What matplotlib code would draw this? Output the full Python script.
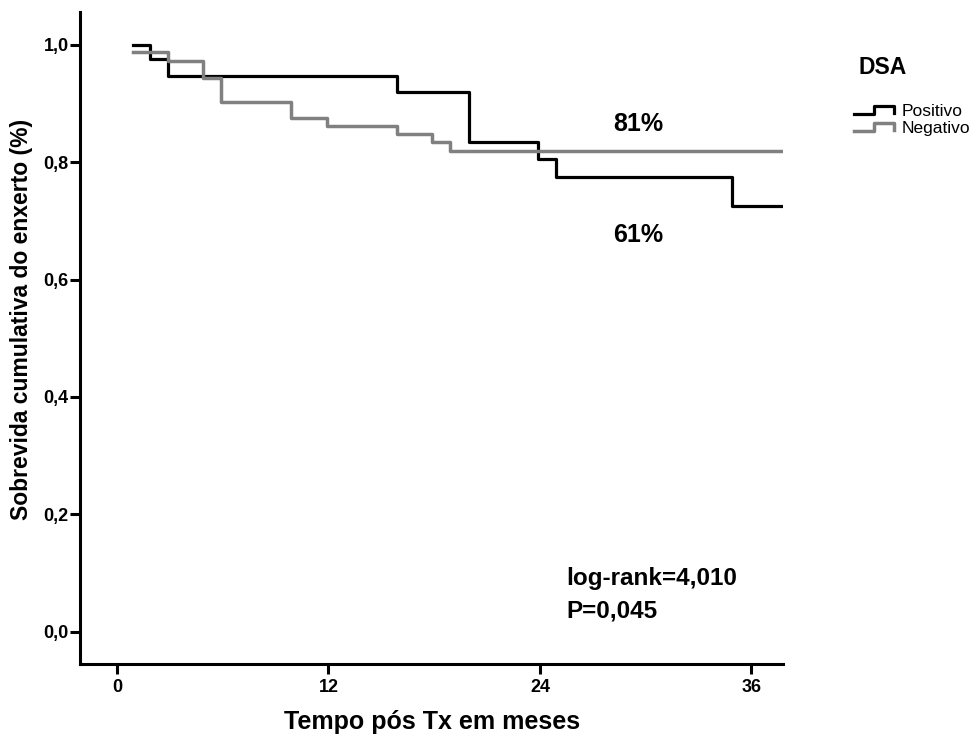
import numpy as np
import matplotlib
matplotlib.use("Agg")
import matplotlib.pyplot as plt
from matplotlib.lines import Line2D
from matplotlib.legend_handler import HandlerBase
from matplotlib.ticker import FuncFormatter

plt.rcParams['font.family'] = ['Liberation Sans', 'DejaVu Sans']

# Kaplan-Meier estimates
t_pos = [0.9, 1.9, 2.9, 15.9, 20.0, 23.9, 24.9, 34.9, 37.8]
s_pos = [1.0, 0.975, 0.947, 0.92, 0.835, 0.806, 0.775, 0.726, 0.726]

t_neg = [0.9, 2.9, 4.9, 5.9, 9.9, 11.9, 15.9, 17.9, 18.9, 37.8]
s_neg = [0.987, 0.973, 0.944, 0.903, 0.875, 0.861, 0.847, 0.834, 0.819, 0.819]

groups = ["Positivo", "Negativo"]
x_ticks = [0, 12, 24, 36]
y_ticks = [0.0, 0.2, 0.4, 0.6, 0.8, 1.0]


class StepHandler(HandlerBase):
    # little step glyph like the SPSS legend
    def create_artists(self, legend, orig_handle, xdescent, ydescent,
                       width, height, fontsize, trans):
        xs = np.array([0, 0.5, 0.5, 1.0, 1.0]) * width - xdescent
        ys = np.array([0.15, 0.15, 0.8, 0.8, 0.25]) * height - ydescent
        ln = Line2D(xs, ys, color=orig_handle.get_color(),
                    lw=orig_handle.get_linewidth())
        ln.set_transform(trans)
        return [ln]


fig = plt.figure(figsize=(9.79, 7.37), dpi=100)
ax = fig.add_axes([0.0817, 0.099, 0.7183, 0.885])

l1, = ax.step(t_pos, s_pos, where='post', color='black', lw=2.3, zorder=3)
l2, = ax.step(t_neg, s_neg, where='post', color='#808080', lw=2.5, zorder=4)

ax.set_xlim(-2.1, 37.8)
ax.set_ylim(-0.055, 1.056)
ax.set_xticks(x_ticks)
ax.set_yticks(y_ticks)
ax.yaxis.set_major_formatter(FuncFormatter(lambda v, p: f"{v:.1f}".replace('.', ',')))

for s in ['top', 'right']:
    ax.spines[s].set_visible(False)
for s in ['left', 'bottom']:
    ax.spines[s].set_linewidth(2.2)

ax.tick_params(axis='both', length=7, width=2.2, labelsize=13)
ax.tick_params(axis='y', pad=1)
ax.tick_params(axis='x', pad=4)
for lab in ax.get_xticklabels() + ax.get_yticklabels():
    lab.set_fontweight('bold')

ax.set_xlabel("Tempo pós Tx em meses", fontsize=18, fontweight='bold', labelpad=10)
ax.set_ylabel("Sobrevida cumulativa do enxerto (%)", fontsize=16.5, fontweight='bold')
ax.yaxis.set_label_coords(-0.067, 0.528)

ax.text(29.6, 0.865, "81%", fontsize=18, fontweight='bold', ha='center', va='center')
ax.text(29.6, 0.675, "61%", fontsize=18, fontweight='bold', ha='center', va='center')
ax.text(25.5, 0.09, "log-rank=4,010", fontsize=17.5, fontweight='bold', ha='left', va='center')
ax.text(25.5, 0.035, "P=0,045", fontsize=17.5, fontweight='bold', ha='left', va='center')

fig.text(883 / 979, 1 - 68 / 737, "DSA", fontsize=16.5, fontweight='bold', ha='center', va='center')
fig.legend([l1, l2], groups, handler_map={Line2D: StepHandler()},
           loc='upper left', bbox_to_anchor=(854 / 979, 1 - 104 / 737),
           frameon=False, fontsize=12.5, handlelength=2.3, handletextpad=0.45,
           labelspacing=0.1, borderpad=0, borderaxespad=0)

fig.savefig("out.png", dpi=100)
